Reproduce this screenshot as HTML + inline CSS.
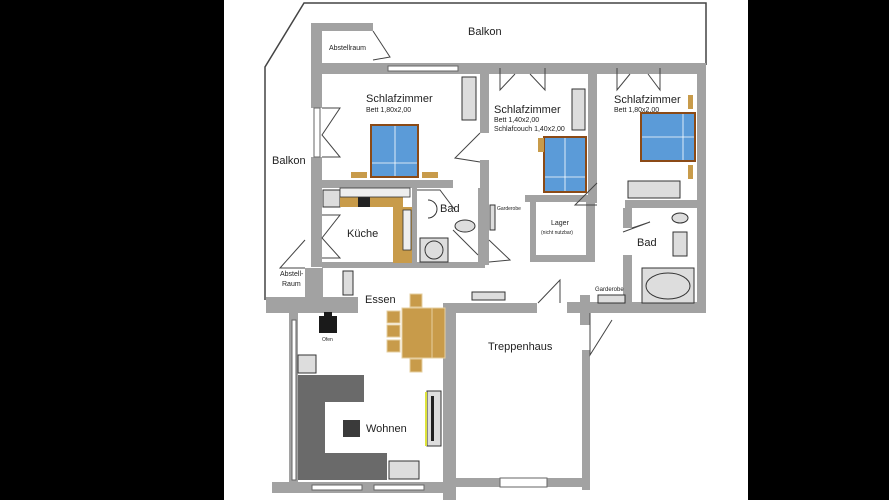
<!DOCTYPE html>
<html><head><meta charset="utf-8"><style>
html,body{margin:0;padding:0;background:#000;}
svg{display:block}
text{font-family:"Liberation Sans",sans-serif;fill:#222}
</style></head><body>
<svg width="889" height="500" viewBox="0 0 889 500" xmlns="http://www.w3.org/2000/svg">
<rect x="0" y="0" width="889" height="500" fill="#000"/>
<rect x="224" y="0" width="524" height="500" fill="#fff"/>
<!-- balcony outline -->
<polyline points="706,65 706,3 304,3 265,67 265,300" fill="none" stroke="#444" stroke-width="1.5"/>
<g fill="#a2a2a2">
<!-- abstellraum walls -->
<rect x="311" y="23" width="62" height="8"/>
<rect x="311" y="23" width="11" height="85"/>
<rect x="311" y="157" width="11" height="110"/>
<!-- top wall -->
<rect x="311" y="63" width="392" height="11"/>
<!-- right outer -->
<rect x="697" y="63" width="9" height="250"/>
<!-- bedroom1 bottom -->
<rect x="311" y="180" width="142" height="8"/>
<!-- bedroom1/2 divider -->
<rect x="480" y="63" width="9" height="70"/>
<rect x="480" y="160" width="9" height="105"/>
<!-- bedroom2/3 -->
<rect x="588" y="63" width="9" height="140"/>
<rect x="525" y="195" width="72" height="7"/>
<rect x="530" y="202" width="6" height="60"/>
<rect x="586" y="202" width="9" height="60"/>
<rect x="530" y="255" width="65" height="7"/>
<rect x="625" y="200" width="75" height="8"/>
<rect x="623" y="208" width="9" height="20"/>
<rect x="623" y="255" width="9" height="50"/>
<rect x="567" y="302" width="139" height="11"/>
<rect x="580" y="295" width="10" height="30"/>
<!-- kitchen/bad -->
<rect x="412" y="188" width="5" height="77"/>
<rect x="412" y="262" width="73" height="6"/>
<rect x="478" y="188" width="7" height="80"/>
<rect x="322" y="262" width="90" height="6"/>
<!-- Abstell-Raum lower left -->
<rect x="266" y="297" width="92" height="16"/>
<rect x="305" y="268" width="18" height="35"/>
<!-- living walls -->
<rect x="289" y="303" width="9" height="185"/>
<rect x="272" y="482" width="173" height="11"/>
<!-- treppenhaus -->
<rect x="447" y="303" width="90" height="10"/>
<rect x="443" y="303" width="13" height="197"/>
<rect x="582" y="350" width="8" height="140"/>
<rect x="456" y="478" width="134" height="9"/>
</g>
<!-- windows -->
<g fill="#fff" stroke="#666" stroke-width="1">
<rect x="388" y="66" width="70" height="5"/>
<rect x="314" y="108" width="6" height="49"/>
<rect x="500" y="478" width="47" height="9"/>
<rect x="312" y="485" width="50" height="5"/>
<rect x="374" y="485" width="50" height="5"/>
<rect x="292" y="320" width="4" height="160"/>
</g>
<!-- door swings -->
<g fill="none" stroke="#444" stroke-width="1">
<polyline points="373,31 390,57 373,60"/>
<polyline points="322,108 340,108 322,135 340,157 322,157"/>
<polyline points="322,215 340,215 322,238 340,258 322,258"/>
<polyline points="500,68 500,90 515,74"/><polyline points="545,68 545,90 530,74"/>
<polyline points="617,68 617,90 630,74"/><polyline points="660,68 660,90 648,74"/>
<polyline points="480,133 455,158 480,162"/>
<polyline points="305,240 280,268 305,268"/>
<polyline points="417,190 440,190 455,210"/>
<polyline points="453,230 478,255"/>
<polyline points="489,240 510,260 489,262"/>
<polyline points="597,183 575,205 597,205"/>
<polyline points="632,228 650,222 623,232"/>
<polyline points="538,303 560,280 560,303"/>
<polyline points="590,313 590,355 612,320"/>
</g>
<!-- cabinets -->
<g fill="#ddd" stroke="#333" stroke-width="1">
<rect x="462" y="77" width="14" height="43"/>
<rect x="572" y="89" width="13" height="41"/>
<rect x="628" y="181" width="52" height="17"/>
<rect x="323" y="190" width="17" height="17"/>
<rect x="343" y="271" width="10" height="24"/>
<rect x="472" y="292" width="33" height="8"/>
<rect x="598" y="295" width="27" height="8"/>
<rect x="490" y="205" width="5" height="25"/>
<rect x="298" y="355" width="18" height="18"/>
<rect x="389" y="461" width="30" height="18"/>
<rect x="427" y="391" width="14" height="55"/>
<rect x="420" y="238" width="28" height="24"/>
<rect x="642" y="268" width="52" height="35"/>
<rect x="673" y="232" width="14" height="24"/>
</g>
<g fill="none" stroke="#333" stroke-width="1">
<circle cx="434" cy="250" r="9"/>
<ellipse cx="668" cy="286" rx="22" ry="13"/>
<ellipse cx="465" cy="226" rx="10" ry="6" fill="#ddd"/>
<ellipse cx="680" cy="218" rx="8" ry="5" fill="#ddd"/>
<path d="M428 200 a9 9 0 0 1 0 18" />
</g>
<rect x="431" y="396" width="3" height="45" fill="#222"/>
<rect x="425" y="392" width="2" height="54" fill="#dde23a"/>
<!-- kitchen -->
<rect x="340" y="197" width="63" height="10" fill="#c89b4a"/>
<rect x="393" y="207" width="19" height="56" fill="#c89b4a"/>
<rect x="358" y="197" width="12" height="10" fill="#222"/>
<rect x="340" y="188" width="70" height="9" fill="#eee" stroke="#333" stroke-width="0.8"/>
<rect x="403" y="210" width="8" height="40" fill="#eee" stroke="#333" stroke-width="0.8"/>
<!-- beds -->
<g stroke="#8b4a16" stroke-width="2" fill="#5b9bd8">
<rect x="371" y="125" width="47" height="52"/>
<rect x="544" y="137" width="42" height="55"/>
<rect x="641" y="113" width="54" height="48"/>
</g>
<g stroke="#fff" stroke-width="0.8">
<line x1="395" y1="126" x2="395" y2="176"/><line x1="372" y1="163" x2="417" y2="163"/>
<line x1="565" y1="138" x2="565" y2="191"/><line x1="545" y1="177" x2="585" y2="177"/>
<line x1="683" y1="114" x2="683" y2="160"/><line x1="642" y1="137" x2="694" y2="137"/>
</g>
<g fill="#c89b4a">
<rect x="351" y="172" width="16" height="6"/><rect x="422" y="172" width="16" height="6"/>
<rect x="538" y="138" width="6" height="14"/>
<rect x="688" y="95" width="5" height="14"/><rect x="688" y="165" width="5" height="14"/>
</g>
<!-- dining -->
<g fill="#c89b4a" stroke="#e6cfa0" stroke-width="1">
<rect x="402" y="308" width="30" height="50"/>
<rect x="432" y="308" width="13" height="50"/>
<rect x="410" y="294" width="12" height="13"/>
<rect x="410" y="359" width="12" height="13"/>
<rect x="387" y="311" width="13" height="12"/>
<rect x="387" y="325" width="13" height="12"/>
<rect x="387" y="340" width="13" height="12"/>
</g>
<!-- ofen -->
<rect x="319" y="316" width="18" height="17" fill="#1a1a1a"/>
<rect x="324" y="312" width="8" height="5" fill="#1a1a1a"/>
<!-- sofa -->
<path d="M298 375 H364 V402 H325 V453 H387 V480 H298 Z" fill="#6a6a6a"/>
<rect x="343" y="420" width="17" height="17" fill="#3a3a3a"/>
<!-- labels -->
<text x="468" y="35" font-size="11">Balkon</text>
<text x="329" y="50" font-size="7">Abstellraum</text>
<text x="366" y="102" font-size="11">Schlafzimmer</text>
<text x="366" y="112" font-size="7">Bett 1,80x2,00</text>
<text x="494" y="113" font-size="11">Schlafzimmer</text>
<text x="494" y="122" font-size="7">Bett 1,40x2,00</text>
<text x="494" y="131" font-size="7">Schlafcouch 1,40x2,00</text>
<text x="614" y="103" font-size="11">Schlafzimmer</text>
<text x="614" y="112" font-size="7">Bett 1,80x2,00</text>
<text x="272" y="164" font-size="11">Balkon</text>
<text x="440" y="212" font-size="11">Bad</text>
<text x="347" y="237" font-size="11">Küche</text>
<text x="497" y="210" font-size="5">Garderobe</text>
<text x="551" y="225" font-size="7">Lager</text>
<text x="541" y="234" font-size="5">(nicht nutzbar)</text>
<text x="637" y="246" font-size="11">Bad</text>
<text x="595" y="291" font-size="6">Garderobe</text>
<text x="280" y="276" font-size="7">Abstell-</text>
<text x="282" y="286" font-size="7">Raum</text>
<text x="365" y="303" font-size="11">Essen</text>
<text x="322" y="341" font-size="5">Ofen</text>
<text x="488" y="350" font-size="11">Treppenhaus</text>
<text x="366" y="432" font-size="11">Wohnen</text>
</svg>
</body></html>
